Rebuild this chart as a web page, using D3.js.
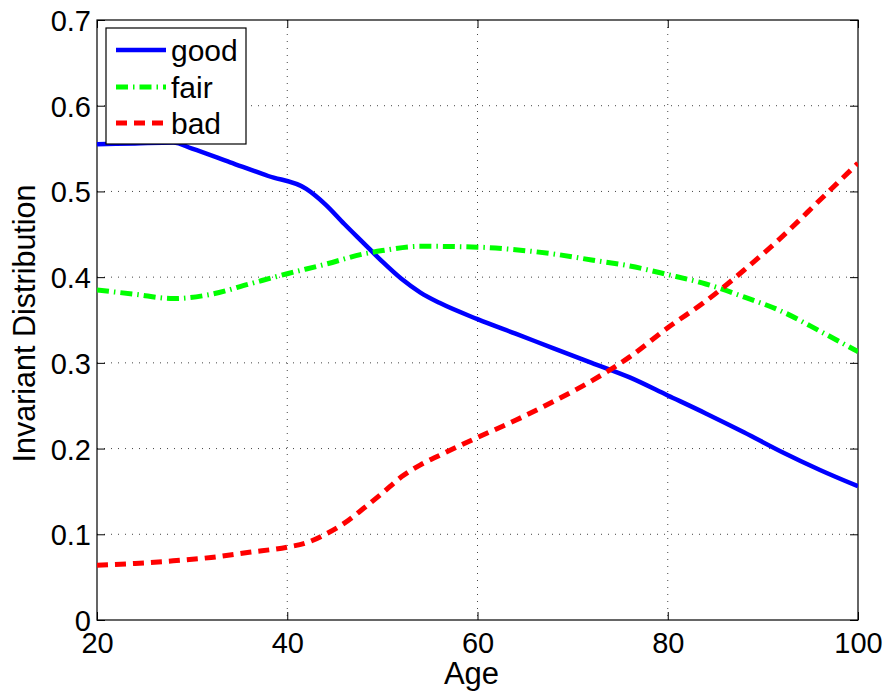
<!DOCTYPE html>
<html>
<head>
<meta charset="utf-8">
<script src="https://cdn.jsdelivr.net/npm/d3@7"></script>
<style>
  html, body { margin: 0; padding: 0; background: #fff; }
  svg text { font-family: "Liberation Sans", Arial, Helvetica, sans-serif; fill: #000; }
</style>
</head>
<body>
<svg id="chart" width="890" height="698"></svg>
<script>
// ---- data ----
const goodAges = [20, 24, 28, 30, 34, 38, 42, 44, 46, 48, 50, 52, 54, 56, 60, 64, 68, 72, 76, 80, 84, 88, 92, 96, 100];
const goodValues = [0.555, 0.556, 0.557, 0.550, 0.534, 0.518, 0.503, 0.485, 0.462, 0.440, 0.418, 0.398, 0.382, 0.370, 0.351, 0.334, 0.317, 0.300, 0.283, 0.262, 0.241, 0.219, 0.196, 0.175, 0.156];

const fairAges = [20, 24, 28, 32, 36, 40, 44, 48, 50, 54, 60, 64, 68, 72, 76, 80, 84, 88, 92, 96, 100];
const fairValues = [0.385, 0.380, 0.375, 0.380, 0.392, 0.404, 0.415, 0.427, 0.431, 0.436, 0.435, 0.432, 0.427, 0.420, 0.413, 0.403, 0.392, 0.377, 0.360, 0.337, 0.313];

const badAges = [20, 24, 28, 32, 36, 40, 42, 44, 46, 48, 50, 52, 54, 56, 60, 64, 68, 72, 76, 80, 84, 88, 92, 96, 100];
const badValues = [0.064, 0.066, 0.069, 0.073, 0.079, 0.085, 0.090, 0.100, 0.113, 0.130, 0.148, 0.167, 0.181, 0.192, 0.213, 0.233, 0.255, 0.279, 0.307, 0.341, 0.372, 0.408, 0.447, 0.490, 0.533];

const seriesNames = ["good", "fair", "bad"];
const xTicks = [20, 40, 60, 80, 100];
const yTicks = [0, 0.1, 0.2, 0.3, 0.4, 0.5, 0.6, 0.7];
const xLabel = "Age";
const yLabel = "Invariant Distribution";

(function () {
// ---- layout ----
const svg = d3.select("#chart");
const pL = 97, pR = 858, pT = 20, pB = 620;
const x = d3.scaleLinear().domain([20, 100]).range([pL, pR]);
const y = d3.scaleLinear().domain([0, 0.7]).range([pB, pT]);

// grid
const grid = svg.append("g");
grid.selectAll("line.gx").data(xTicks.slice(1, -1)).enter().append("line")
  .attr("x1", d => x(d)).attr("x2", d => x(d)).attr("y1", pT).attr("y2", pB)
  .attr("stroke", "#444").attr("stroke-width", 1).attr("stroke-dasharray", "1,6");
grid.selectAll("line.gy").data(yTicks.slice(1, -1)).enter().append("line")
  .attr("x1", pL).attr("x2", pR).attr("y1", d => y(d)).attr("y2", d => y(d))
  .attr("stroke", "#444").attr("stroke-width", 1).attr("stroke-dasharray", "1,6");

// axes (inward ticks, all sides)
const tickLen = 8;
const fmtY = d => d === 0 ? "0" : d3.format(".1f")(d);
const axB = svg.append("g").attr("transform", `translate(0,${pB})`)
  .call(d3.axisBottom(x).tickValues(xTicks).tickSize(-tickLen).tickPadding(12).tickFormat(d3.format("d")));
const axT = svg.append("g").attr("transform", `translate(0,${pT})`)
  .call(d3.axisTop(x).tickValues(xTicks).tickSize(-tickLen).tickFormat(""));
const axL = svg.append("g").attr("transform", `translate(${pL},0)`)
  .call(d3.axisLeft(y).tickValues(yTicks).tickSize(-tickLen).tickPadding(6).tickFormat(fmtY));
const axR = svg.append("g").attr("transform", `translate(${pR},0)`)
  .call(d3.axisRight(y).tickValues(yTicks).tickSize(-tickLen).tickFormat(""));
[axB, axT, axL, axR].forEach(a => {
  a.select(".domain").remove();
  a.selectAll(".tick line").attr("stroke", "#000").attr("stroke-width", 1);
  a.selectAll(".tick text").style("font-size", "29px").attr("fill", "#000");
});
axB.selectAll(".tick text").attr("dy", "0.71em");
axL.selectAll(".tick text").attr("dy", "0.36em");

// frame
svg.append("rect").attr("x", pL).attr("y", pT).attr("width", pR - pL).attr("height", pB - pT)
  .attr("fill", "none").attr("stroke", "#000").attr("stroke-width", 1.2);

// lines
const line = d3.line().x(d => x(d[0])).y(d => y(d[1])).curve(d3.curveMonotoneX);
const series = [
  { name: "good", data: d3.zip(goodAges, goodValues), color: "#0000ff", dash: null, w: 4.5 },
  { name: "fair", data: d3.zip(fairAges, fairValues), color: "#00ff00", dash: "12,5,1.5,5", w: 5 },
  { name: "bad", data: d3.zip(badAges, badValues), color: "#ff0000", dash: "11,7", w: 5 }
];
svg.append("clipPath").attr("id", "clip").append("rect")
  .attr("x", pL).attr("y", pT).attr("width", pR - pL).attr("height", pB - pT);
svg.append("g").attr("clip-path", "url(#clip)").selectAll("path").data(series).enter().append("path")
  .attr("d", d => line(d.data)).attr("fill", "none")
  .attr("stroke", d => d.color).attr("stroke-width", d => d.w)
  .attr("stroke-dasharray", d => d.dash);

// axis labels
svg.append("text").attr("x", x(60) - 6).attr("y", 684).attr("text-anchor", "middle")
  .style("font-size", "31px").text(xLabel);
svg.append("text").attr("transform", `translate(35,${(182 + 465) / 2}) rotate(-90)`)
  .attr("text-anchor", "middle").style("font-size", "30.5px").text(yLabel);

// legend
const lg = svg.append("g");
lg.append("rect").attr("x", 106).attr("y", 28).attr("width", 140).attr("height", 116)
  .attr("fill", "#fff").attr("stroke", "#000").attr("stroke-width", 1.2);
const rowY = [50, 87, 123];
series.forEach((s, i) => {
  lg.append("line").attr("x1", 116).attr("x2", 166).attr("y1", rowY[i]).attr("y2", rowY[i])
    .attr("stroke", s.color).attr("stroke-width", s.w).attr("stroke-dasharray", s.dash);
  lg.append("text").attr("x", 171).attr("y", rowY[i]).attr("dy", "0.36em")
    .style("font-size", "30px").text(seriesNames[i]);
});
})();
</script>
</body>
</html>
